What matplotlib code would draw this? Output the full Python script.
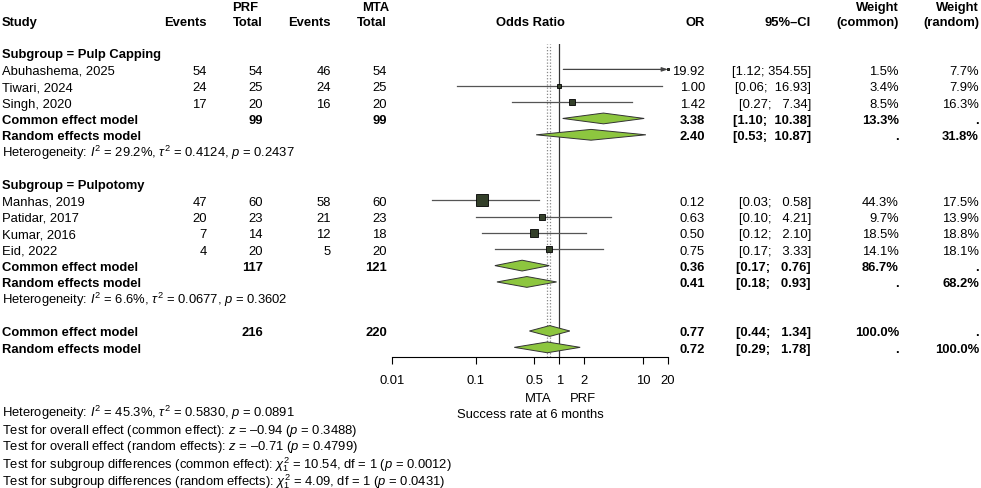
import numpy as np
import matplotlib
matplotlib.use("Agg")
import matplotlib.pyplot as plt

plt.rcParams["font.family"] = ["Liberation Sans", "DejaVu Sans"]
plt.rcParams["mathtext.fontset"] = "custom"
plt.rcParams["mathtext.rm"] = "Liberation Sans"
plt.rcParams["mathtext.it"] = "Liberation Sans:italic"
plt.rcParams["mathtext.bf"] = "Liberation Sans:bold"

# ---- dati ----
sottogruppi = ["Pulp Capping", "Pulpotomy"]
studi = [["Abuhashema, 2025", "Tiwari, 2024", "Singh, 2020"],
         ["Manhas, 2019", "Patidar, 2017", "Kumar, 2016", "Eid, 2022"]]
ev_prf = [[54, 24, 17], [47, 20, 7, 4]]
n_prf = [[54, 25, 20], [60, 23, 14, 20]]
ev_mta = [[46, 24, 16], [58, 21, 12, 5]]
n_mta = [[54, 25, 20], [60, 23, 18, 20]]
odds = [[19.92, 1.00, 1.42], [0.12, 0.63, 0.50, 0.75]]
ci_lo = [[1.12, 0.06, 0.27], [0.03, 0.10, 0.12, 0.17]]
ci_hi = [[354.55, 16.93, 7.34], [0.58, 4.21, 2.10, 3.33]]
w_common = [[1.5, 3.4, 8.5], [44.3, 9.7, 18.5, 14.1]]
w_random = [[7.7, 7.9, 16.3], [17.5, 13.9, 18.8, 18.1]]

# modelli per sottogruppo: (OR, lo, hi, peso)
sub_common = [(3.38, 1.10, 10.38, 13.3), (0.36, 0.17, 0.76, 86.7)]
sub_random = [(2.40, 0.53, 10.87, 31.8), (0.41, 0.18, 0.93, 68.2)]
sub_tot_prf = [99, 117]
sub_tot_mta = [99, 121]
sub_het = [r"Heterogeneity: $I^2$ = 29.2%, $\tau^2$ = 0.4124, $p$ = 0.2437",
           r"Heterogeneity: $I^2$ = 6.6%, $\tau^2$ = 0.0677, $p$ = 0.3602"]

tot_common = (0.77, 0.44, 1.34, 100.0)
tot_random = (0.72, 0.29, 1.78, 100.0)
tot_prf, tot_mta = 216, 220

x_ticks = [0.01, 0.1, 0.5, 1, 2, 10, 20]
x_ticklabels = ["0.01", "0.1", "0.5", "1", "2", "10", "20"]

testi_finali = [
    r"Heterogeneity: $I^2$ = 45.3%, $\tau^2$ = 0.5830, $p$ = 0.0891",
    r"Test for overall effect (common effect): $z$ = –0.94 ($p$ = 0.3488)",
    r"Test for overall effect (random effects): $z$ = –0.71 ($p$ = 0.4799)",
    r"Test for subgroup differences (common effect): $\chi^2_1$ = 10.54, df = 1 ($p$ = 0.0012)",
    r"Test for subgroup differences (random effects): $\chi^2_1$ = 4.09, df = 1 ($p$ = 0.0431)",
]

# ---- layout (pixel) ----
W, H = 981, 489
Y0, DY = 5.0, 16.35          # riga i -> y pixel = Y0 + i*DY
FS = 9.4
BASE = 4.4 / DY              # dal centro delle maiuscole alla linea di base
X_EV1, X_TOT1, X_EV2, X_TOT2 = 207, 263, 331, 387
X_OR, X_CI, X_WC, X_WR = 705, 811, 899, 979
FX_L, FX_R, FX_T, FX_B = 392, 668, 45, 358
VERDE = "#8dc63f"
QUADRO = "#34402a"


def riga(yp):
    return (yp - Y0) / DY


fig = plt.figure(figsize=(W / 100, H / 100), dpi=100)
ax = fig.add_axes([0, 0, 1, 1])
ax.set_xlim(0, W)
ax.set_ylim(riga(H), riga(0))
ax.axis("off")

fx = fig.add_axes([FX_L / W, 1 - FX_B / H, (FX_R - FX_L) / W, (FX_B - FX_T) / H])
fx.set_xscale("log")
fx.set_xlim(0.01, 20)
fx.set_ylim(riga(FX_B), riga(FX_T))
fx.patch.set_visible(False)
for s in ["top", "left", "right"]:
    fx.spines[s].set_visible(False)
fx.spines["bottom"].set_linewidth(0.8)
fx.set_yticks([])
fx.set_xticks(x_ticks)
fx.set_xticklabels(x_ticklabels, fontsize=FS)
fx.minorticks_off()
fx.tick_params(axis="x", length=5, width=0.8, pad=7.5)


def t(x, r, s, ha="right", bold=False):
    ax.text(x, r + BASE, s, ha=ha, va="baseline", fontsize=FS,
            fontweight="bold" if bold else "normal")


def fmt_ci(lo, hi):
    return f"[{lo:.2f}; {hi:>6.2f}]"


def diamante(r, est, lo, hi):
    h = 0.33
    fx.fill([lo, est, hi, est], [r, r - h, r, r + h], facecolor=VERDE,
            edgecolor="#333333", linewidth=0.7, zorder=3)


# intestazioni
r0 = 0.1
t(232.5, r0, "PRF", ha="left", bold=True)
t(362, r0, "MTA", ha="left", bold=True)
t(X_WC, r0, "Weight", bold=True)
t(X_WR, r0, "Weight", bold=True)
t(2, 1, "Study", ha="left", bold=True)
for x, s in [(X_EV1, "Events"), (X_TOT1, "Total"), (X_EV2, "Events"),
             (X_TOT2, "Total"), (X_OR, "OR"), (X_CI, "95%–CI"),
             (X_WC, "(common)"), (X_WR, "(random)")]:
    t(x, 1, s, bold=True)
t((FX_L + FX_R) / 2, 1, "Odds Ratio", ha="center", bold=True)

r = 3
for g, nome in enumerate(sottogruppi):
    t(2, r, f"Subgroup = {nome}", ha="left", bold=True)
    r += 1
    for i, st in enumerate(studi[g]):
        t(2, r, st, ha="left")
        t(X_EV1, r, str(ev_prf[g][i]))
        t(X_TOT1, r, str(n_prf[g][i]))
        t(X_EV2, r, str(ev_mta[g][i]))
        t(X_TOT2, r, str(n_mta[g][i]))
        t(X_OR, r, f"{odds[g][i]:.2f}")
        t(X_CI, r, fmt_ci(ci_lo[g][i], ci_hi[g][i]))
        t(X_WC, r, f"{w_common[g][i]:.1f}%")
        t(X_WR, r, f"{w_random[g][i]:.1f}%")
        lo, hi = ci_lo[g][i], ci_hi[g][i]
        if hi > 20:
            fx.annotate("", xy=(20, r), xytext=(lo, r), annotation_clip=False,
                        arrowprops=dict(arrowstyle="-|>,head_length=0.35,head_width=0.12",
                                        color="#444444", lw=0.9, shrinkA=0, shrinkB=0))
        else:
            fx.plot([lo, hi], [r, r], color="#555555", lw=0.9, zorder=2)
        fx.plot(odds[g][i], r, marker="s", markersize=0.72 * 1.8 * np.sqrt(w_common[g][i]),
                markerfacecolor=QUADRO, markeredgecolor="black", markeredgewidth=0.6,
                zorder=4, clip_on=False)
        r += 1
    est, lo, hi, w = sub_common[g]
    t(2, r, "Common effect model", ha="left", bold=True)
    t(X_TOT1, r, str(sub_tot_prf[g]), bold=True)
    t(X_TOT2, r, str(sub_tot_mta[g]), bold=True)
    t(X_OR, r, f"{est:.2f}", bold=True)
    t(X_CI, r, fmt_ci(lo, hi), bold=True)
    t(X_WC, r, f"{w:.1f}%", bold=True)
    t(X_WR, r, ".", bold=True)
    diamante(r, est, lo, hi)
    r += 1
    est, lo, hi, w = sub_random[g]
    t(2, r, "Random effects model", ha="left", bold=True)
    t(X_OR, r, f"{est:.2f}", bold=True)
    t(X_CI, r, fmt_ci(lo, hi), bold=True)
    t(X_WC, r, ".", bold=True)
    t(X_WR, r, f"{w:.1f}%", bold=True)
    diamante(r, est, lo, hi)
    r += 1
    t(2, r, sub_het[g], ha="left")
    r += 2

# complessivo
est, lo, hi, w = tot_common
t(2, r, "Common effect model", ha="left", bold=True)
t(X_TOT1, r, str(tot_prf), bold=True)
t(X_TOT2, r, str(tot_mta), bold=True)
t(X_OR, r, f"{est:.2f}", bold=True)
t(X_CI, r, fmt_ci(lo, hi), bold=True)
t(X_WC, r, f"{w:.1f}%", bold=True)
t(X_WR, r, ".", bold=True)
diamante(r, est, lo, hi)
r += 1
est, lo, hi, w = tot_random
t(2, r, "Random effects model", ha="left", bold=True)
t(X_OR, r, f"{est:.2f}", bold=True)
t(X_CI, r, fmt_ci(lo, hi), bold=True)
t(X_WC, r, ".", bold=True)
t(X_WR, r, f"{w:.1f}%", bold=True)
diamante(r, est, lo, hi)

# linee verticali
fx.axvline(1, color="#333333", lw=0.9, zorder=1)
fx.axvline(tot_common[0], color="#888888", lw=0.9, ls=(0, (1, 1.5)), zorder=1)
fx.axvline(tot_random[0], color="#888888", lw=0.9, ls=(0, (1, 1.5)), zorder=1)

# etichette sotto l'asse
r += 3
t(552, r, "MTA", ha="right")
t(570, r, "PRF", ha="left")
r += 1
t((FX_L + FX_R) / 2, r, "Success rate at 6 months", ha="center")
passo = [-0.05, 0.99, 1.97, 3.07, 4.11]
for k, s in enumerate(testi_finali):
    t(2, r + passo[k], s, ha="left")

fig.savefig("out.png", dpi=100)
